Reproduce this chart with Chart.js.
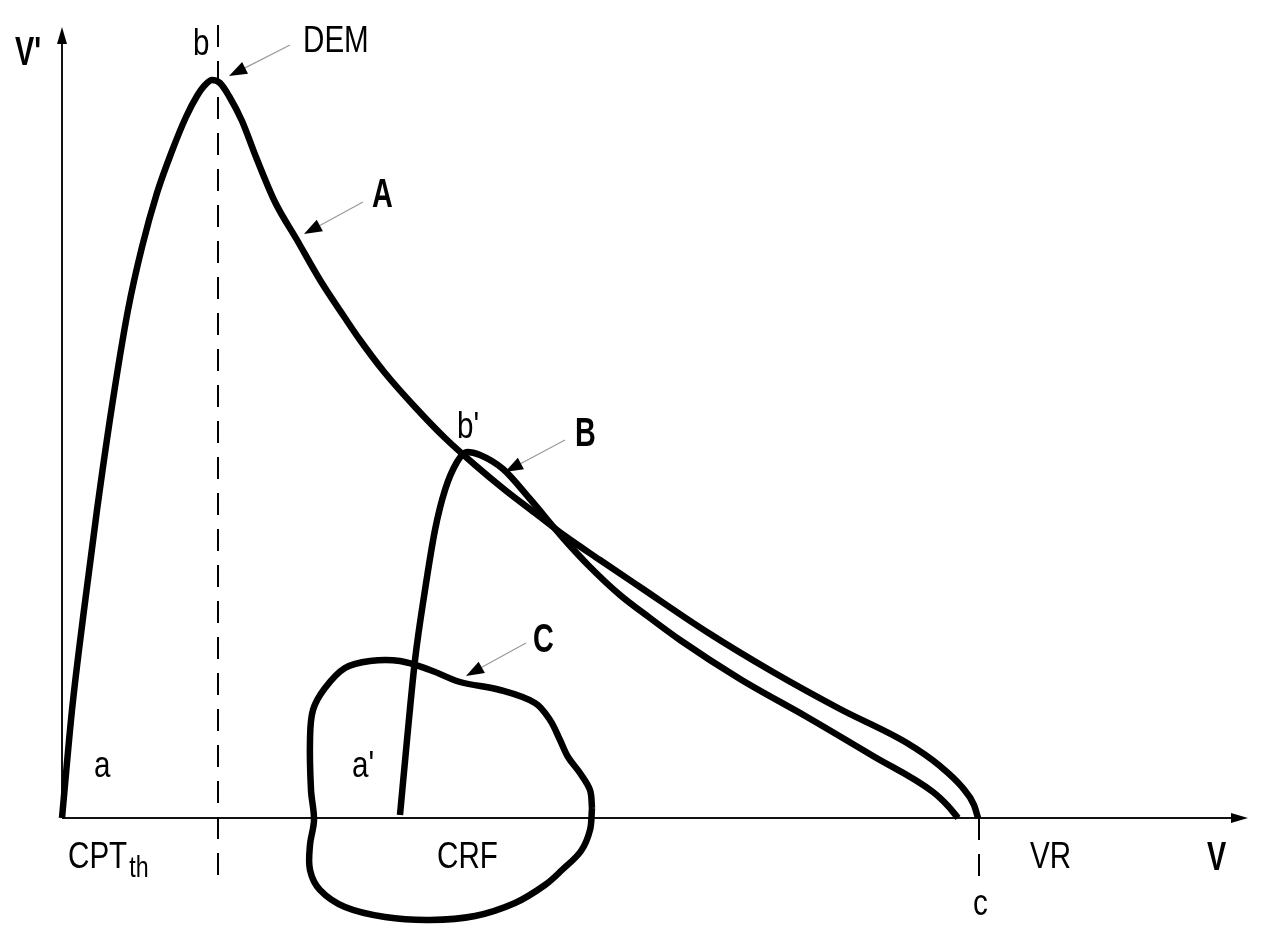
<!DOCTYPE html>
<html>
<head>
<meta charset="utf-8">
<title>Courbes débit-volume</title>
<script src="https://cdn.jsdelivr.net/npm/chart.js@4"></script>
<style>
	html, body { margin: 0; padding: 0; background: #fff; }
	canvas { display: block; }
</style>
</head>
<body>
<canvas id="chart" width="1268" height="934"></canvas>
<script>
// Volume (x) and flow (y) in drawing units, origin at CPT and zero flow.
var curveA = [
	{x: 0, y: 0}, {x: 10, y: 108}, {x: 22, y: 208}, {x: 35, y: 308}, {x: 50, y: 412},
	{x: 66, y: 508}, {x: 80, y: 571}, {x: 95, y: 625}, {x: 110, y: 667}, {x: 124, y: 701},
	{x: 135, y: 722}, {x: 143, y: 733}, {x: 150, y: 738}, {x: 158, y: 735}, {x: 167, y: 722},
	{x: 180, y: 697}, {x: 194, y: 661}, {x: 213, y: 616}, {x: 235, y: 578}, {x: 258, y: 538},
	{x: 283, y: 500}, {x: 298, y: 478}, {x: 323, y: 445}, {x: 353, y: 411}, {x: 383, y: 380},
	{x: 413, y: 353}, {x: 443, y: 328}, {x: 473, y: 305}, {x: 503, y: 282}, {x: 538, y: 258},
	{x: 578, y: 231}, {x: 645, y: 186}, {x: 711, y: 146}, {x: 778, y: 109}, {x: 845, y: 75},
	{x: 878, y: 52}, {x: 900, y: 31}, {x: 912, y: 13}, {x: 916, y: 0}
];
var curveB = [
	{x: 338, y: 3}, {x: 345, y: 78}, {x: 353, y: 158}, {x: 363, y: 228}, {x: 373, y: 288},
	{x: 383, y: 328}, {x: 395, y: 356}, {x: 405, y: 366}, {x: 418, y: 363}, {x: 441, y: 349},
	{x: 468, y: 319}, {x: 501, y: 280}, {x: 528, y: 251}, {x: 558, y: 223}, {x: 588, y: 200},
	{x: 618, y: 178}, {x: 678, y: 139}, {x: 745, y: 101}, {x: 811, y: 62}, {x: 871, y: 26},
	{x: 886, y: 12}, {x: 896, y: 0}
];
var curveC = [
	{x: 530, y: 10}, {x: 528, y: -12}, {x: 519, y: -33}, {x: 500, y: -52}, {x: 483, y: -67},
	{x: 453, y: -85}, {x: 413, y: -98}, {x: 368, y: -102}, {x: 323, y: -99}, {x: 283, y: -89},
	{x: 258, y: -72}, {x: 248, y: -52}, {x: 248, y: -27}, {x: 252, y: -2}, {x: 249, y: 28},
	{x: 248, y: 78}, {x: 251, y: 108}, {x: 263, y: 130}, {x: 283, y: 150}, {x: 308, y: 157},
	{x: 338, y: 157}, {x: 368, y: 148}, {x: 398, y: 136}, {x: 438, y: 128}, {x: 473, y: 115},
	{x: 488, y: 98}, {x: 498, y: 78}, {x: 506, y: 61}, {x: 518, y: 45}, {x: 528, y: 28},
	{x: 530, y: 10}
];
// vertical guides at DEM (b) and VR (c)
var demGuide = [{x: 156, y: 793}, {x: 156, y: -57}];
var vrGuide = [{x: 917, y: 0}, {x: 917, y: -59}];
var axisEnd = {x: 1186, y: 791};

// text anchors, left end of the baseline
var plainLabels = [
	{text: 'b', x: 131, y: 763},
	{text: 'DEM', x: 241, y: 766},
	{text: "b'", x: 395, y: 380},
	{text: 'a', x: 32, y: 41},
	{text: "a'", x: 290, y: 41},
	{text: 'CRF', x: 375, y: -50},
	{text: 'VR', x: 968, y: -50},
	{text: 'c', x: 911, y: -97}
];
var boldLabels = [
	{text: "V'", x: -47, y: 753},
	{text: 'A', x: 310, y: 611},
	{text: 'B', x: 513, y: 372},
	{text: 'C', x: 471, y: 166},
	{text: 'V', x: 1145, y: -52}
];
// pointer arrows: from the label towards the curve
var pointers = [
	{from: {x: 228, y: 773}, to: {x: 167, y: 742}},
	{from: {x: 301, y: 616}, to: {x: 242, y: 584}},
	{from: {x: 503, y: 378}, to: {x: 443, y: 346}},
	{from: {x: 464, y: 175}, to: {x: 404, y: 142}}
];

var FONT = "'Liberation Sans', Arial, sans-serif";

/**
 * Draws a line from (x0, y0) ending in a filled arrow head at (x1, y1).
 * Coordinates are in pixels.
 */
function drawArrow(ctx, x0, y0, x1, y1, headLen, headHalf, lineColor, lineWidth) {
	var ang = Math.atan2(y1 - y0, x1 - x0);
	var c = Math.cos(ang);
	var s = Math.sin(ang);
	var bx = x1 - c * headLen;
	var by = y1 - s * headLen;
	ctx.strokeStyle = lineColor;
	ctx.lineWidth = lineWidth;
	ctx.beginPath();
	ctx.moveTo(x0, y0);
	ctx.lineTo(bx, by);
	ctx.stroke();
	ctx.fillStyle = '#000';
	ctx.beginPath();
	ctx.moveTo(x1, y1);
	ctx.lineTo(bx - s * headHalf, by + c * headHalf);
	ctx.lineTo(bx + s * headHalf, by - c * headHalf);
	ctx.closePath();
	ctx.fill();
}

/**
 * Writes text squeezed horizontally, to look like a narrow typeface.
 * Returns the drawn width in pixels.
 */
function narrowText(ctx, text, x, y, squeeze) {
	ctx.save();
	ctx.translate(x, y);
	ctx.scale(squeeze, 1);
	ctx.fillText(text, 0, 0);
	var w = ctx.measureText(text).width * squeeze;
	ctx.restore();
	return w;
}

var diagramPlugin = {
	id: 'diagram',
	beforeDatasetsDraw: function(chart) {
		var ctx = chart.ctx;
		var xs = chart.scales.x;
		var ys = chart.scales.y;
		var ox = xs.getPixelForValue(0);
		var oy = ys.getPixelForValue(0);
		ctx.save();
		// axes with arrow heads
		drawArrow(ctx, ox, oy, xs.getPixelForValue(axisEnd.x), oy, 17, 5, '#111', 2);
		drawArrow(ctx, ox, oy, ox, ys.getPixelForValue(axisEnd.y), 17, 5, '#111', 2);
		ctx.restore();
	},
	afterDatasetsDraw: function(chart) {
		var ctx = chart.ctx;
		var xs = chart.scales.x;
		var ys = chart.scales.y;
		ctx.save();
		ctx.textBaseline = 'alphabetic';
		ctx.textAlign = 'left';
		ctx.fillStyle = '#000';

		ctx.font = '37px ' + FONT;
		plainLabels.forEach(function(l) {
			narrowText(ctx, l.text, xs.getPixelForValue(l.x), ys.getPixelForValue(l.y), 0.8);
		});

		// CPT with subscript th
		var cx = xs.getPixelForValue(6);
		var cy = ys.getPixelForValue(-50);
		var w = narrowText(ctx, 'CPT', cx, cy, 0.8);
		ctx.font = '29px ' + FONT;
		narrowText(ctx, 'th', cx + w + 2, cy + 9, 0.8);

		ctx.font = 'bold 40px ' + FONT;
		boldLabels.forEach(function(l) {
			narrowText(ctx, l.text, xs.getPixelForValue(l.x), ys.getPixelForValue(l.y), 0.72);
		});

		pointers.forEach(function(p) {
			drawArrow(ctx,
				xs.getPixelForValue(p.from.x), ys.getPixelForValue(p.from.y),
				xs.getPixelForValue(p.to.x), ys.getPixelForValue(p.to.y),
				18, 6.5, '#9a9a9a', 1.2);
		});
		ctx.restore();
	}
};

function curveDataset(points, smooth) {
	var ds = {
		data: points,
		showLine: true,
		borderColor: '#000',
		borderWidth: 6.5,
		borderJoinStyle: 'round',
		pointRadius: 0,
		fill: false
	};
	if (smooth == 'monotone') {
		ds.cubicInterpolationMode = 'monotone';
	} else {
		ds.tension = smooth;
	}
	return ds;
}

function guideDataset(points) {
	return {
		data: points,
		showLine: true,
		borderColor: '#000',
		borderWidth: 2,
		borderDash: [22, 14],
		tension: 0,
		pointRadius: 0,
		fill: false
	};
}

var ctx = document.getElementById('chart').getContext('2d');
var chart = new Chart(ctx, {
	type: 'scatter',
	data: {
		datasets: [
			guideDataset(demGuide),
			guideDataset(vrGuide),
			curveDataset(curveA, 'monotone'),
			curveDataset(curveB, 'monotone'),
			curveDataset(curveC, 0.35)
		]
	},
	options: {
		responsive: false,
		animation: false,
		layout: { padding: 0 },
		plugins: {
			legend: { display: false },
			tooltip: { enabled: false }
		},
		scales: {
			x: { type: 'linear', display: false, min: -62, max: 1206 },
			y: { type: 'linear', display: false, min: -116, max: 818 }
		}
	},
	plugins: [diagramPlugin]
});
</script>
</body>
</html>
